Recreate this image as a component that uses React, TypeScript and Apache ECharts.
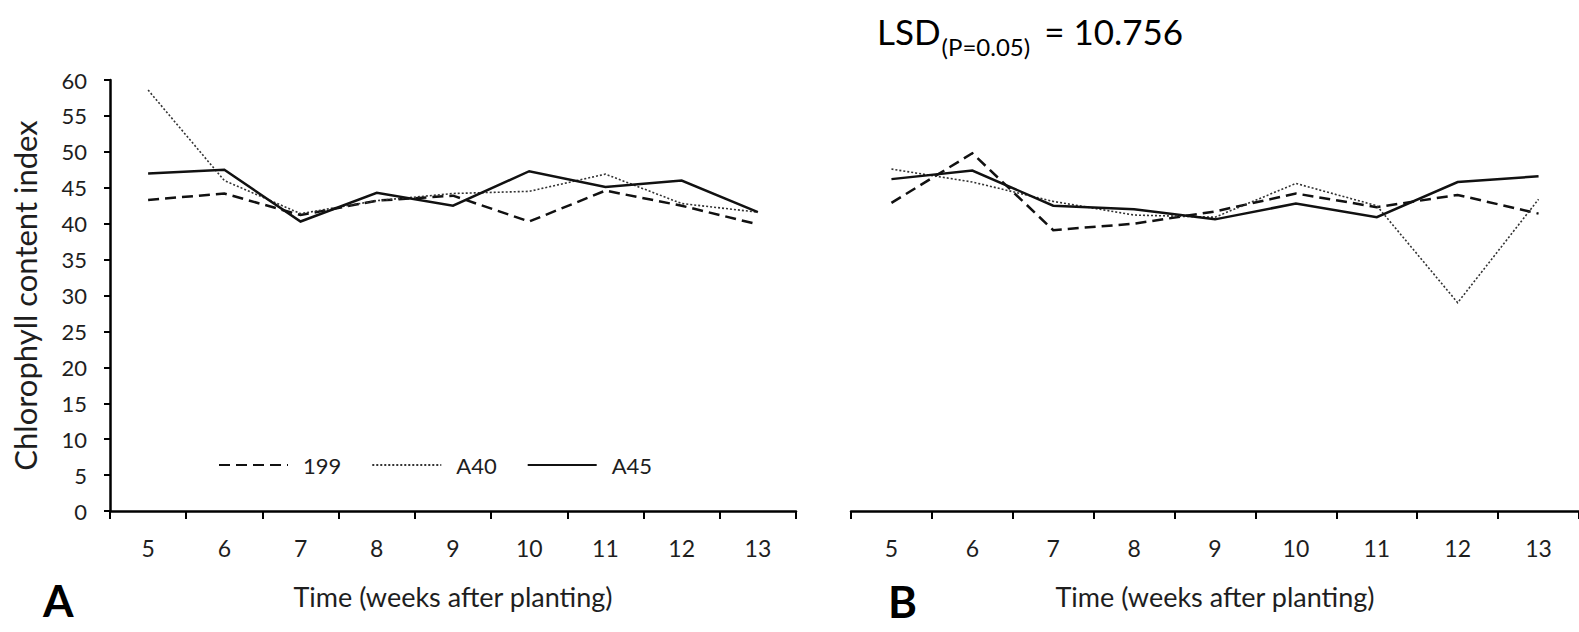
import React, { useEffect, useRef } from "react";
import * as echarts from "echarts";

const weeks = ["5", "6", "7", "8", "9", "10", "11", "12", "13"];
const yTicks = { min: 0, max: 60, interval: 5 };

// Panel A
const a_199 = [43.3, 44.2, 41.2, 43.2, 43.9, 40.3, 44.6, 42.5, 39.9];
const a_A40 = [58.6, 46.0, 41.4, 43.2, 44.2, 44.5, 46.9, 42.8, 41.6];
const a_A45 = [47.0, 47.5, 40.3, 44.3, 42.5, 47.3, 45.1, 46.0, 41.6];

// Panel B
const b_199 = [42.9, 49.8, 39.1, 40.0, 41.7, 44.2, 42.3, 44.0, 41.4];
const b_A40 = [47.6, 45.8, 43.1, 41.2, 40.9, 45.6, 42.5, 29.0, 43.4];
const b_A45 = [46.2, 47.4, 42.5, 42.0, 40.6, 42.8, 40.9, 45.8, 46.6];

const lsdMain = "LSD";
const lsdSub = "(P=0.05)";
const lsdValue = "= 10.756";

const FONT = "Lato, 'Noto Sans', sans-serif";
const INK = "#1e1e1e";

const styles: Record<string, any> = {
  "199": { color: "#111", width: 2.5, type: [11, 6] },
  A40: { color: "#333", width: 1.6, type: [2, 2] },
  A45: { color: "#111", width: 2.5, type: "solid" },
};

function mkSeries(name: string, data: number[], idx: number) {
  return {
    type: "line",
    name,
    data,
    xAxisIndex: idx,
    yAxisIndex: idx,
    symbol: "none",
    lineStyle: { ...styles[name], cap: "butt", join: "miter" },
    itemStyle: { color: styles[name].color },
    z: name === "A45" ? 3 : 2,
  };
}

function measure(text: string, size: number): number {
  const c = document.createElement("canvas").getContext("2d");
  if (!c) return text.length * size * 0.55;
  c.font = `${size}px Lato, 'Noto Sans', sans-serif`;
  return c.measureText(text).width;
}

export default function App() {
  const ref = useRef<HTMLDivElement>(null);
  useEffect(() => {
    if (!ref.current) return;
    const chart = echarts.init(ref.current, undefined, { renderer: "svg" });
    const xAxisBase = (gridIndex: number) => ({
      type: "category",
      gridIndex,
      data: weeks,
      boundaryGap: true,
      name: "Time (weeks after planting)",
      nameLocation: "middle",
      nameGap: 72,
      nameTextStyle: { fontFamily: FONT, fontSize: 27, color: INK },
      axisLine: { show: true, lineStyle: { color: "#000", width: 2.5 } },
      axisTick: { show: true, length: 8, alignWithLabel: false, lineStyle: { color: "#000", width: 2 } },
      axisLabel: { margin: 25, fontFamily: FONT, fontSize: 23, color: INK },
      splitLine: { show: false },
    });

    const mainSize = 35;
    const subSize = 24;
    const x1 = 877;
    const x2 = x1 + measure(lsdMain, mainSize) + 1;
    const x3 = x2 + measure(lsdSub, subSize) + 14;

    const option = {
      animation: false,
      backgroundColor: "#fff",
      grid: [
        { left: 110, top: 80, width: 686, height: 431, containLabel: false },
        { left: 851, top: 80, width: 741, height: 431, containLabel: false },
      ],
      xAxis: [xAxisBase(0), xAxisBase(1)],
      yAxis: [
        {
          type: "value",
          gridIndex: 0,
          ...yTicks,
          name: "Chlorophyll content index",
          nameLocation: "middle",
          nameGap: 70,
          nameTextStyle: { fontFamily: FONT, fontSize: 31, color: INK },
          axisLine: { show: true, lineStyle: { color: "#000", width: 2.5 } },
          axisTick: { show: true, length: 6, lineStyle: { color: "#000", width: 2 } },
          axisLabel: { margin: 23, fontFamily: FONT, fontSize: 22, color: INK },
          splitLine: { show: false },
        },
        {
          type: "value",
          gridIndex: 1,
          ...yTicks,
          axisLine: { show: false },
          axisTick: { show: false },
          axisLabel: { show: false },
          splitLine: { show: false },
        },
      ],
      legend: {
        left: 213,
        top: 449,
        itemWidth: 69,
        itemHeight: 4,
        itemGap: 30,
        itemStyle: { opacity: 0, borderWidth: 0 },
        data: ["199", "A40", "A45"],
        textStyle: { fontFamily: FONT, fontSize: 22, color: INK, padding: [0, 0, 0, 10] },
      },
      series: [
        mkSeries("199", a_199, 0),
        mkSeries("A40", a_A40, 0),
        mkSeries("A45", a_A45, 0),
        mkSeries("199", b_199, 1),
        mkSeries("A40", b_A40, 1),
        mkSeries("A45", b_A45, 1),
      ],
      graphic: [
        {
          type: "text",
          left: 43,
          top: 578,
          style: { text: "A", fontFamily: FONT, fontSize: 44, fontWeight: "bold", fill: "#000" },
        },
        {
          type: "text",
          left: 888,
          top: 579,
          style: { text: "B", fontFamily: FONT, fontSize: 44, fontWeight: "bold", fill: "#000" },
        },
        {
          type: "text",
          x: x1,
          y: 31,
          style: { text: lsdMain, fontFamily: FONT, fontSize: mainSize, fill: "#000", verticalAlign: "middle", align: "left" },
        },
        {
          type: "text",
          x: x2,
          y: 46,
          style: { text: lsdSub, fontFamily: FONT, fontSize: subSize, fill: "#000", verticalAlign: "middle", align: "left" },
        },
        {
          type: "text",
          x: x3,
          y: 31,
          style: { text: lsdValue, fontFamily: FONT, fontSize: mainSize, fill: "#000", verticalAlign: "middle", align: "left" },
        },
      ],
    };
    chart.setOption(option as any);
    return () => chart.dispose();
  }, []);
  return (
    <div
      ref={ref}
      style={{ position: "absolute", left: 0, top: 0, width: 1579, height: 632, overflow: "hidden" }}
    />
  );
}
